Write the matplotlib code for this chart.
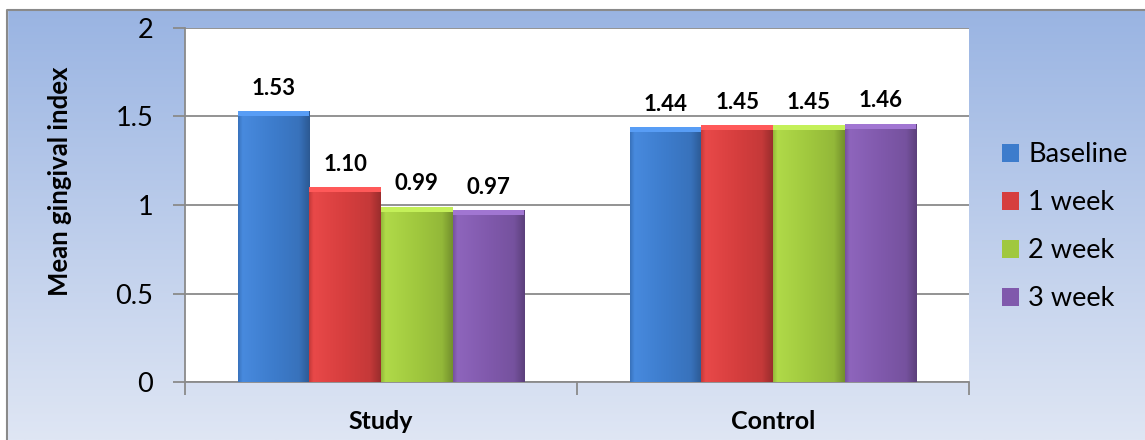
import numpy as np
import matplotlib
matplotlib.use("Agg")
import matplotlib.pyplot as plt
from matplotlib.patches import Rectangle, Patch
from matplotlib.colors import LinearSegmentedColormap, to_rgb

plt.rcParams['font.family'] = ['Lato', 'DejaVu Sans']

groups = ["Study", "Control"]
series = ["Baseline", "1 week", "2 week", "3 week"]
values = {
    "Baseline": [1.53, 1.44],
    "1 week": [1.10, 1.45],
    "2 week": [0.99, 1.45],
    "3 week": [0.97, 1.46],
}
labels = {
    "Baseline": ["1.53", "1.44"],
    "1 week": ["1.10", "1.45"],
    "2 week": ["0.99", "1.45"],
    "3 week": ["0.97", "1.46"],
}
colors = {
    "Baseline": "#3d7ccc",
    "1 week": "#d63e3e",
    "2 week": "#a0c83e",
    "3 week": "#8059ac",
}
yticks = [0, 0.5, 1, 1.5, 2]
ytick_labels = ["0", "0.5", "1", "1.5", "2"]

W, H = 1145, 440
fig = plt.figure(figsize=(W / 100, H / 100), dpi=100)

bg = fig.add_axes([0, 0, 1, 1], zorder=-10)
top_c = np.array(to_rgb("#98b3e2"))
bot_c = np.array(to_rgb("#dfe6f4"))
t = np.linspace(0, 1, 256)[:, None]
grad = top_c[None, None, :] * (1 - t[:, :, None]) + bot_c[None, None, :] * t[:, :, None]
grad = np.repeat(grad, 2, axis=1)
bg.imshow(grad, aspect='auto', extent=[0, W, H, 0])
bg.set_xlim(0, W)
bg.set_ylim(H, 0)
bg.axis('off')
bg.add_patch(Rectangle((0, 0), W, 9.5, color='white', zorder=2))
bg.add_patch(Rectangle((0, 0), 6.5, H, color='white', zorder=2))
bg.plot([7, 7, W], [H, 10, 10], color='#8a8a8a', lw=1.5, zorder=3)

left, right, top, bottom = 185, 969, 28, 382
ax = fig.add_axes([left / W, 1 - bottom / H, (right - left) / W, (bottom - top) / H])
ax.set_facecolor('white')

n = len(series)
bw = 0.1825
x = np.arange(len(groups))

def bar_cmap(c):
    c = np.array(to_rgb(c))
    light = np.clip(c * 1.05 + 0.03, 0, 1)
    dark = c * 0.72
    return LinearSegmentedColormap.from_list(
        "g", [(0, c * 0.92), (0.06, light), (0.5, c), (0.85, c * 0.92), (1, dark)])

for i, s in enumerate(series):
    xs = x + (i - (n - 1) / 2) * bw
    bars = ax.bar(xs, values[s], bw, color=colors[s], zorder=3, linewidth=0)
    cm = bar_cmap(colors[s])
    for b in bars:
        bx, by = b.get_x(), b.get_y()
        bwid, bh = b.get_width(), b.get_height()
        img = ax.imshow(np.linspace(0, 1, 200)[None, :], cmap=cm, aspect='auto',
                        extent=[bx, bx + bwid, by, by + bh], zorder=4,
                        interpolation='bilinear')
        img.set_clip_path(b)
        ax.add_patch(Rectangle((bx, by + bh - 0.028), bwid, 0.028,
                               color=np.clip(np.array(to_rgb(colors[s])) * 1.1 + 0.08, 0, 1),
                               zorder=5, lw=0))
    for xi, v, lab in zip(xs, values[s], labels[s]):
        ax.annotate(lab, (xi, v), xytext=(0, 9), textcoords='offset points',
                    ha='center', va='bottom', fontsize=16, fontweight='bold')

ax.set_xlim(-0.5, 1.5)
ax.set_ylim(0, 2)
ax.set_yticks(yticks)
ax.set_yticklabels(ytick_labels, fontsize=19.5)
ax.yaxis.grid(True, color='#8a8a8a', lw=1.3, zorder=1)
ax.set_axisbelow(True)
ax.tick_params(axis='y', length=9, width=1.3, color='#8a8a8a', pad=14)
ax.set_xticks([-0.5, 0.5, 1.5])
ax.set_xticklabels([])
ax.set_xticks(x, minor=True)
ax.set_xticklabels(groups, minor=True, fontsize=18, fontweight='bold')
ax.tick_params(axis='x', which='major', length=9, width=1.3, color='#8a8a8a')
ax.tick_params(axis='x', which='minor', length=0, pad=20)
for sp in ['top', 'right']:
    ax.spines[sp].set_visible(False)
for sp in ['left', 'bottom']:
    ax.spines[sp].set_color('#8a8a8a')
    ax.spines[sp].set_linewidth(1.3)

fig.text(60 / W, 1 - 181 / H, "Mean gingival index", rotation=90,
         ha='center', va='center', fontsize=18.5, fontweight='bold')

handles = [Patch(facecolor=colors[s], edgecolor='none') for s in series]
leg = fig.legend(handles, series, loc='upper left',
                 bbox_to_anchor=(978 / W, 1 - 118 / H), frameon=False,
                 fontsize=19.5, handlelength=0.63, handleheight=0.63,
                 handletextpad=0.33, labelspacing=0.85, borderpad=0.4)

fig.savefig("out.png", dpi=100)
